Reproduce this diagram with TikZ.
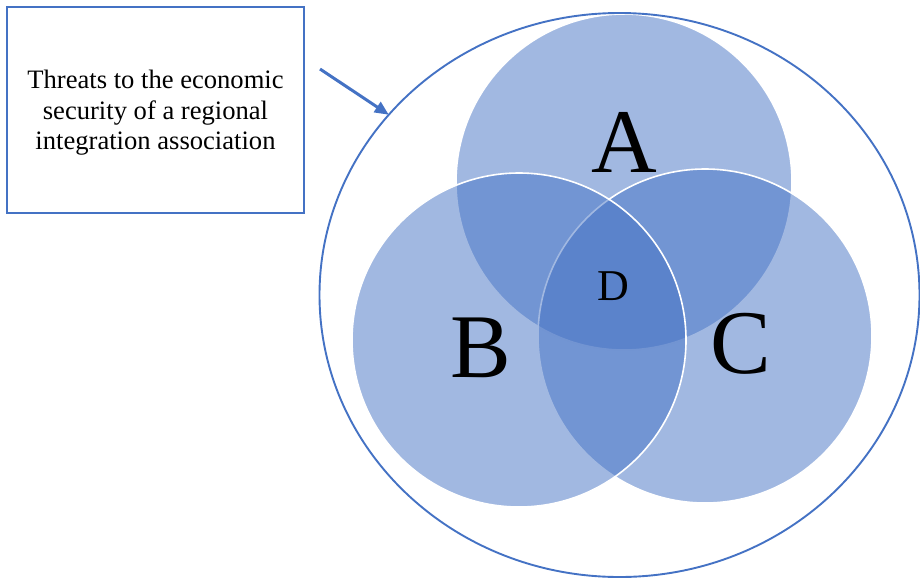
\documentclass[tikz,border=0pt]{standalone}
\usepackage{fontspec}
\setmainfont{Liberation Serif}
\usetikzlibrary{arrows.meta,shapes.geometric}
\definecolor{wblue}{HTML}{4472C4}
\begin{document}
\begin{tikzpicture}[x=1pt,y=-1pt,
  setcircle/.style={circle,fill=wblue,fill opacity=0.5,draw=white,draw opacity=1,line width=1.6pt,inner sep=0,outer sep=0,minimum size=#1},
  biglabel/.style={inner sep=0,font=\fontsize{91}{91}\selectfont},
  frame/.style={draw=wblue,line width=1.9pt}]
\useasboundingbox (0,0) rectangle (920,579);
\node[setcircle=336] (A) at (624,182) {};
\node[setcircle=334] (C) at (705,336) {};
\node[setcircle=334] (B) at (519,340) {};
\node[frame,ellipse,inner sep=0,outer sep=0,minimum width=600,minimum height=564] (outer) at (619.5,295) {};
\node[frame,rectangle,inner sep=0,outer sep=0,minimum width=297,minimum height=206] (box) at (155.5,110) {};
\node[inner sep=0,align=center,font=\fontsize{26.6}{30.5}\selectfont] (txt) at (155.5,113) {Threats to the economic\\security of a regional\\integration association};
\coordinate (start) at (320,69);
\draw[wblue,line width=3pt,-{Triangle[length=14pt,width=12pt]}] (start) -- (outer.142);
\node[biglabel] (la) at (624,142) {A};
\node[biglabel] (lb) at (481,348) {B};
\node[biglabel] (lc) at (741,344) {C};
\node[inner sep=0,font=\fontsize{44}{44}\selectfont] (ld) at (613,286) {D};
\end{tikzpicture}
\end{document}
